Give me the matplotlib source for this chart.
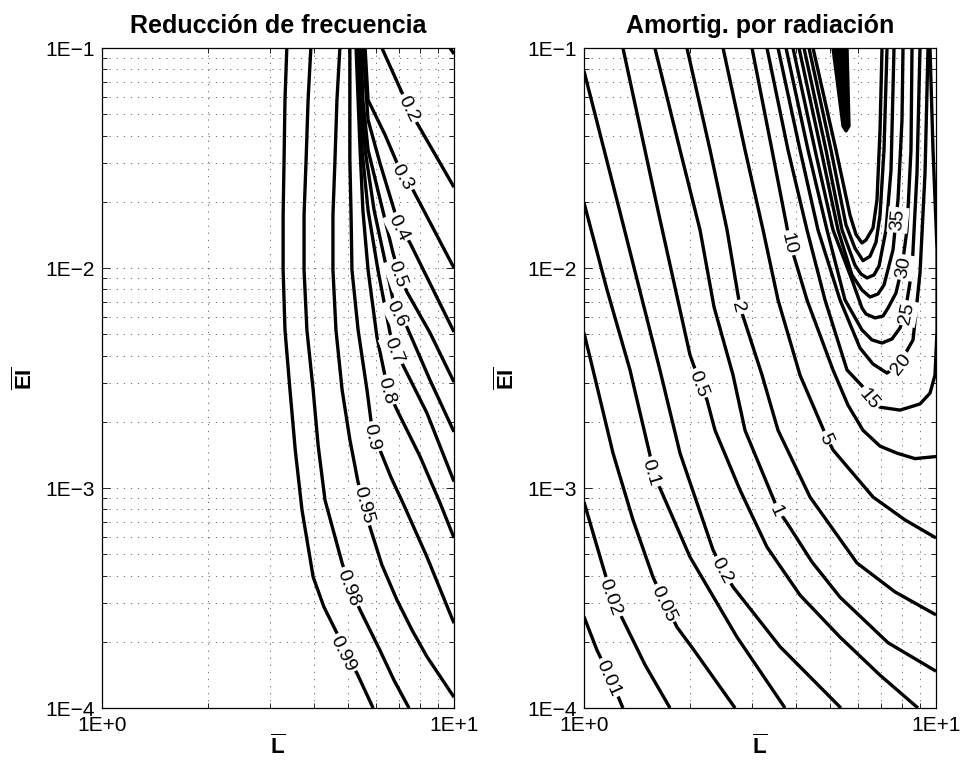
import matplotlib
matplotlib.use('Agg')
import matplotlib.pyplot as plt
import numpy as np
from matplotlib.ticker import FixedLocator, FixedFormatter, LogLocator, NullFormatter

plt.rcParams['font.family'] = 'Liberation Sans'
plt.rcParams['mathtext.fontset'] = 'custom'
plt.rcParams['mathtext.rm'] = 'Liberation Sans'
plt.rcParams['mathtext.bf'] = 'Liberation Sans:bold'

# ---- left panel: frequency reduction, points (L, EI) ----
freq_L = {
    '0.99': [3.35, 3.31, 3.29, 3.27, 3.27, 3.31, 3.42, 3.54, 3.70, 3.98, 4.27, 4.65, 4.90, 5.30, 5.89],
    '0.98': [3.92, 3.85, 3.80, 3.75, 3.75, 3.82, 3.98, 4.11, 4.30, 4.81, 5.06, 5.41, 6.16, 6.75, 7.45],
    '0.95': [4.74, 4.65, 4.59, 4.53, 4.53, 4.62, 4.81, 5.06, 5.34, 5.59, 5.77, 6.24, 6.89, 7.60, 8.38, 10.0],
    '0.9': [5.06, 5.06, 5.06, 5.10, 5.13, 5.34, 5.66, 5.89, 6.16, 6.62, 7.16, 8.38, 10.0],
    '0.8': [5.27, 5.34, 5.41, 5.51, 5.70, 6.04, 6.49, 6.89, 8.01, 9.13, 10.0],
    '0.7': [5.30, 5.37, 5.48, 5.70, 6.08, 6.58, 6.80, 7.16, 8.38, 10.0],
    '0.6': [5.37, 5.44, 5.59, 5.93, 6.45, 6.71, 6.93, 7.35, 8.55, 10.0],
    '0.5': [5.44, 5.51, 5.70, 6.37, 6.71, 6.98, 7.35, 8.55, 10.0],
    '0.4': [5.51, 5.70, 6.16, 6.80, 7.03, 7.50, 10.0],
    '0.3': [5.59, 5.70, 6.37, 6.89, 7.21, 7.65, 10.0],
    '0.2': [6.24, 7.12, 7.50, 7.85, 10.0],
    '0.1': [9.74, 10.0],
}
freq_EI = {
    '0.99': [0.1, 0.058, 0.0309, 0.0174, 0.00979, 0.00523, 0.00279, 0.00149, 7.94e-4, 3.94e-4,
             2.88e-4, 2.19e-4, 1.78e-4, 1.44e-4, 1.0e-4],
    '0.98': [0.1, 0.058, 0.0309, 0.0174, 0.00979, 0.00523, 0.00279, 0.00157, 8.82e-4, 4.56e-4,
             3.55e-4, 2.79e-4, 1.83e-4, 1.34e-4, 1.0e-4],
    '0.95': [0.1, 0.058, 0.0309, 0.0174, 0.00979, 0.00523, 0.00279, 0.00166, 1.06e-3, 8.37e-4,
             6.65e-4, 4.47e-4, 3.09e-4, 2.26e-4, 1.71e-4, 1.12e-4],
    '0.9': [0.1, 0.058, 0.0309, 0.0174, 0.00979, 0.00523, 0.00279, 0.00171, 1.49e-3, 1.12e-3,
            8.55e-4, 4.86e-4, 2.43e-4],
    '0.8': [0.1, 0.058, 0.0344, 0.0183, 0.00979, 0.00486, 0.00279, 0.00226, 1.39e-3, 8.55e-4, 5.93e-4],
    '0.7': [0.1, 0.058, 0.0344, 0.0183, 0.00979, 0.00507, 0.00424, 0.00362, 0.00219, 1.07e-3],
    '0.6': [0.1, 0.058, 0.0344, 0.0183, 0.00979, 0.00716, 0.00625, 0.00539, 0.00309, 0.00180],
    '0.5': [0.1, 0.058, 0.0344, 0.01655, 0.0117, 0.00939, 0.00778, 0.00507, 0.00303],
    '0.4': [0.1, 0.0471, 0.0300, 0.0178, 0.01536, 0.0130, 0.00512],
    '0.3': [0.1, 0.0580, 0.0403, 0.0300, 0.0260, 0.0226, 0.0100],
    '0.2': [0.1, 0.0625, 0.0534, 0.0456, 0.0233],
    '0.1': [0.1, 0.094],
}
freq_labels = [('0.2', 7.50, 0.0534), ('0.3', 7.21, 0.0260), ('0.4', 7.03, 0.01536),
               ('0.5', 6.98, 0.00939), ('0.6', 6.93, 0.00625), ('0.7', 6.80, 0.00424),
               ('0.8', 6.49, 0.00279), ('0.9', 5.89, 0.00171), ('0.95', 5.59, 8.37e-4),
               ('0.98', 5.06, 3.55e-4), ('0.99', 4.90, 1.78e-4)]

# ---- right panel: radiation damping ----
damp_L = {
    '0.01': [1.0, 1.089, 1.186, 1.290],
    '0.02': [1.0, 1.111, 1.201, 1.282, 1.491, 1.755],
    '0.05': [1.0, 1.061, 1.209, 1.378, 1.570, 1.699, 1.838, 2.054, 2.686],
    '0.1': [1.0, 1.163, 1.351, 1.540, 1.560, 1.643, 2.000, 2.721, 3.724],
    '0.2': [1.0, 1.282, 1.643, 1.874, 2.326, 2.483, 2.651, 3.605, 5.370],
    '0.5': [1.290, 1.622, 2.000, 2.136, 2.236, 2.356, 2.775, 3.310, 4.108, 5.337, 6.934, 8.889],
    '1': [1.590, 1.874, 2.136, 2.341, 2.651, 2.867, 3.558, 3.773, 4.444, 5.337, 7.306, 10.0],
    '2': [1.961, 2.281, 2.549, 2.775, 3.205, 3.558, 4.386, 5.964, 7.648, 10.0],
    '5': [2.483, 2.867, 3.226, 3.558, 4.108, 4.901, 5.098, 6.623, 8.164, 10.0],
    '10': [3.001, 3.420, 3.848, 4.300, 5.098, 5.623, 6.203, 6.934, 7.748, 8.717, 10.0],
    '15': [3.310, 3.798, 4.300, 4.838, 5.587, 6.203, 6.494, 6.934, 7.902, 9.007, 9.616, 9.935,
           10.07, 10.07, 9.806, 9.616],
    '20': [3.558, 4.108, 4.621, 5.337, 6.082, 6.623, 7.258, 7.902, 8.604, 9.007, 9.307, 9.491],
    '25': [3.749, 4.329, 4.901, 5.514, 6.162, 6.579, 7.025, 7.499, 7.902, 8.164, 8.547, 8.831, 9.007],
    '30': [3.924, 4.532, 5.098, 5.773, 6.162, 6.325, 6.710, 7.071, 7.306, 7.698, 8.006, 8.271,
           8.491, 8.547],
    '35': [4.081, 4.713, 5.267, 5.772, 6.162, 6.494, 6.842, 7.117, 7.549, 7.698, 7.799, 8.006, 8.058],
    '40': [4.217, 4.869, 5.407, 5.886, 6.121, 6.367, 6.666, 6.888, 7.211, 7.451, 7.598],
    '45': [4.357, 5.031, 5.550, 5.886, 6.203, 6.494, 6.754, 6.934, 7.117, 7.258],
    '50': [4.473, 5.199, 5.697, 5.925, 6.162, 6.325, 6.623, 6.798, 6.934, 7.025],
}
damp_EI = {
    '0.01': [2.60e-4, 1.83e-4, 1.38e-4, 1.0e-4],
    '0.02': [8.64e-4, 4.86e-4, 3.19e-4, 2.57e-4, 1.57e-4, 1.0e-4],
    '0.05': [5.07e-3, 3.44e-3, 1.44e-3, 7.16e-4, 3.94e-4, 3.00e-4, 2.33e-4, 1.83e-4, 1.0e-4],
    '0.1': [0.0198, 0.00794, 0.00344, 0.00141, 0.00118, 0.001, 4.86e-4, 2.10e-4, 1.0e-4],
    '0.2': [0.0786, 0.01655, 0.00344, 0.00144, 5.23e-4, 4.24e-4, 3.55e-4, 1.90e-4, 1.0e-4],
    '0.5': [0.1, 0.0183, 0.00403, 0.00300, 0.00251, 0.00183, 9.79e-4, 5.39e-4, 3.26e-4, 2.10e-4,
            1.41e-4, 1.0e-4],
    '1': [0.1, 0.0344, 0.0149, 0.00665, 0.00326, 0.00183, 7.94e-4, 6.94e-4, 4.61e-4, 3.19e-4,
          1.98e-4, 1.47e-4],
    '2': [0.1, 0.0344, 0.0149, 0.00665, 0.00326, 0.00183, 9.10e-4, 4.56e-4, 3.37e-4, 2.65e-4],
    '5': [0.1, 0.0344, 0.0149, 0.00716, 0.00326, 0.00169, 0.00149, 9.10e-4, 7.16e-4, 5.93e-4],
    '10': [0.1, 0.0344, 0.0130, 0.00716, 0.00344, 0.00238, 0.00183, 0.00155, 0.00144, 0.00136,
           0.00139],
    '15': [0.1, 0.0344, 0.0149, 0.00716, 0.00344, 0.00288, 0.00257, 0.00233, 0.00226, 0.00241,
           0.00270, 0.00326, 0.00523, 0.0121, 0.0344, 0.1],
    '20': [0.1, 0.0344, 0.0149, 0.00716, 0.00433, 0.00366, 0.00333, 0.00370, 0.00471, 0.00949,
           0.0270, 0.1],
    '25': [0.1, 0.0344, 0.0149, 0.00716, 0.00523, 0.00471, 0.00456, 0.00476, 0.00534, 0.00625,
           0.00979, 0.0270, 0.1],
    '30': [0.1, 0.0344, 0.0149, 0.00882, 0.00658, 0.00618, 0.00593, 0.00605, 0.00658, 0.00770,
           0.0101, 0.0149, 0.0344, 0.1],
    '35': [0.1, 0.0344, 0.0149, 0.00930, 0.00794, 0.00738, 0.00762, 0.00837, 0.0121, 0.01655,
           0.0204, 0.0471, 0.1],
    '40': [0.1, 0.0344, 0.0149, 0.0103, 0.00939, 0.00901, 0.00930, 0.0102, 0.0149, 0.0279, 0.1],
    '45': [0.1, 0.0344, 0.0157, 0.0123, 0.0108, 0.0113, 0.0131, 0.0174, 0.0344, 0.1],
    '50': [0.1, 0.0344, 0.0174, 0.0142, 0.0130, 0.0134, 0.0152, 0.0204, 0.0424, 0.1],
}
# narrow spike of packed contours near the top
spike_L = [5.098, 5.442, 5.550, 5.660, 5.587]
spike_EI = [0.1, 0.0442, 0.0420, 0.0442, 0.1]

damp_labels = [('0.01', 1.186, 1.38e-4), ('0.02', 1.201, 3.19e-4), ('0.05', 1.699, 3.00e-4),
               ('0.1', 1.560, 1.18e-3), ('0.2', 2.483, 4.24e-4), ('0.5', 2.136, 3.00e-3),
               ('1', 3.558, 7.94e-4), ('2', 2.775, 6.65e-3), ('5', 4.901, 1.69e-3),
               ('10', 3.848, 0.0130), ('15', 6.494, 2.57e-3), ('20', 7.902, 3.70e-3),
               ('25', 8.164, 6.25e-3), ('30', 8.006, 0.0101), ('35', 7.698, 0.01655)]

x_ticks = [1, 10]
x_ticklabels = ['1E+0', '1E+1']
y_ticks = [1e-4, 1e-3, 1e-2, 1e-1]
y_ticklabels = ['1E\u22124', '1E\u22123', '1E\u22122', '1E\u22121']


def setup_axes(ax, title):
    ax.set_xscale('log')
    ax.set_yscale('log')
    ax.set_xlim(1, 10)
    ax.set_ylim(1e-4, 1e-1)
    ax.xaxis.set_major_locator(FixedLocator(x_ticks))
    ax.xaxis.set_major_formatter(FixedFormatter(x_ticklabels))
    ax.yaxis.set_major_locator(FixedLocator(y_ticks))
    ax.yaxis.set_major_formatter(FixedFormatter(y_ticklabels))
    ax.xaxis.set_minor_locator(LogLocator(base=10, subs=np.arange(2, 10)))
    ax.yaxis.set_minor_locator(LogLocator(base=10, subs=np.arange(2, 10)))
    ax.xaxis.set_minor_formatter(NullFormatter())
    ax.yaxis.set_minor_formatter(NullFormatter())
    ax.tick_params(which='both', direction='in', top=True, right=True, width=0.6, labelsize=15)
    ax.tick_params(which='major', length=6)
    ax.tick_params(which='minor', length=3.5)
    ax.tick_params(axis='x', pad=6)
    ax.tick_params(axis='y', pad=5)
    ax.grid(True, which='both', color='0.35', linewidth=0.6, linestyle=(0, (1.5, 7)))
    ax.set_axisbelow(True)
    for s in ax.spines.values():
        s.set_linewidth(0.9)
    ax.set_title(title, fontsize=18, fontweight='bold', pad=11)
    ax.set_xlabel(r'$\mathbf{\overline{L}}$', fontsize=16, labelpad=0)
    ax.set_ylabel(r'$\mathbf{\overline{EI}}$', fontsize=16, labelpad=6)


def draw_lines(ax, lines_L, lines_EI, labels):
    for lev in lines_L:
        ax.plot(lines_L[lev], lines_EI[lev], color='k', lw=2.4,
                solid_joinstyle='round', solid_capstyle='butt', zorder=3)
    for txt, lx, ly in labels:
        pts = ax.transData.transform(np.column_stack([lines_L[txt], lines_EI[txt]]))
        p = ax.transData.transform((lx, ly))
        i = int(np.argmin(np.hypot(pts[:, 0] - p[0], pts[:, 1] - p[1])))
        a = pts[max(i - 1, 0)]
        b = pts[min(i + 1, len(pts) - 1)]
        ang = np.degrees(np.arctan2(b[1] - a[1], b[0] - a[0]))
        if ang > 90:
            ang -= 180
        if ang < -90:
            ang += 180
        ax.text(lx, ly, txt, rotation=ang, rotation_mode='anchor', ha='center',
                va='center_baseline', fontsize=14, zorder=4,
                bbox=dict(boxstyle='square,pad=0.1', fc='white', ec='none'))


fig = plt.figure(figsize=(9.65, 7.64), dpi=100)
ax1 = fig.add_axes([102 / 965, 56 / 764, 352 / 965, 660 / 764])
ax2 = fig.add_axes([584 / 965, 56 / 764, 352 / 965, 660 / 764])

setup_axes(ax1, 'Reducción de frecuencia')
setup_axes(ax2, 'Amortig. por radiación')

draw_lines(ax1, freq_L, freq_EI, freq_labels)
draw_lines(ax2, damp_L, damp_EI, damp_labels)
ax2.fill(spike_L, spike_EI, color='k', lw=2.4, joinstyle='round', zorder=3)

fig.savefig('out.png', dpi=100)
